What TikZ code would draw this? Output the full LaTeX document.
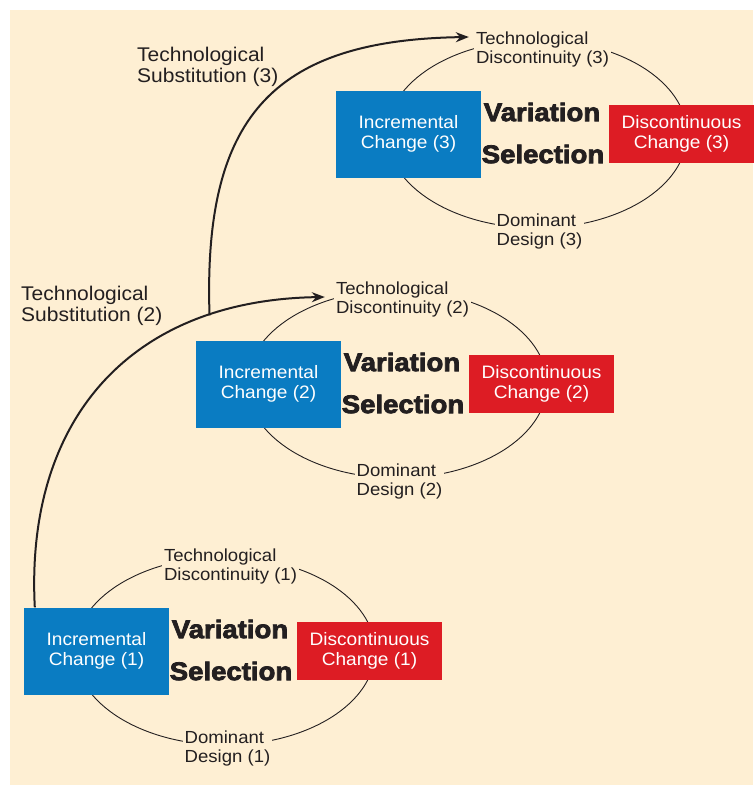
\documentclass[tikz,border=0pt]{standalone}
\usepackage{fontspec}
\setmainfont{Liberation Sans}[FakeStretch=1.06]
\newfontfamily\heavyfont{Liberation Sans Bold}[FakeBold=3,FakeStretch=1.08]
\usetikzlibrary{shapes.geometric,positioning,arrows.meta}
\definecolor{cream}{HTML}{FEEFD3}
\definecolor{ink}{HTML}{231F20}
\definecolor{incblue}{HTML}{0A7CC2}
\definecolor{discred}{HTML}{DD1C24}
\tikzset{
  era/.style={ellipse,draw=ink,line width=0.9pt,minimum width=300pt,minimum height=188pt,inner sep=0pt},
  incr/.style={fill=incblue,text=white,minimum width=145pt,minimum height=87pt,align=center,inner sep=0pt,
    font=\fontsize{18}{19.5}\selectfont},
  disc/.style={fill=discred,text=white,minimum width=145pt,minimum height=58pt,align=center,inner sep=0pt,
    font=\fontsize{18}{19.5}\selectfont},
  mech/.style={text=ink,inner sep=0pt,font=\heavyfont\fontsize{25.5}{25.5}\selectfont},
  tag/.style={fill=cream,text=ink,align=left,inner sep=2pt,font=\fontsize{17.5}{19}\selectfont},
  substtag/.style={text=ink,align=left,inner sep=0pt,anchor=west,font=\fontsize{19.8}{21}\selectfont},
  subst/.style={draw=ink,line width=2pt,-{Stealth[length=13pt,width=10pt]}},
}

\begin{document}
\begin{tikzpicture}[x=1pt,y=-1pt,on grid]
  \useasboundingbox (0,0) rectangle (753,785);
  \fill[cream] (10,10) rectangle (753,785);

  % first era
  \node[era] (e1) at (225,651) {};
  \node[incr] (inc1) [left=128.5pt of e1] {Incremental\\Change (1)};
  \node[disc] (dis1) [right=144.5pt of e1] {Discontinuous\\Change (1)};
  \node[mech] (var1) [above=22pt of e1,xshift=5pt] {Variation};
  \node[mech] (sel1) [below=20pt of e1,xshift=6pt] {Selection};
  \node[tag] (td1) [above=84.5pt of e1,xshift=5.5pt] {Technological\\Discontinuity (1)};
  \node[tag] (dd1) [below=97.5pt of e1,xshift=2.5pt] {Dominant\\Design (1)};

  % second era
  \node[era] (e2) at (397,384) {};
  \node[incr] (inc2) [left=128.5pt of e2] {Incremental\\Change (2)};
  \node[disc] (dis2) [right=144.5pt of e2] {Discontinuous\\Change (2)};
  \node[mech] (var2) [above=22pt of e2,xshift=5pt] {Variation};
  \node[mech] (sel2) [below=20pt of e2,xshift=6pt] {Selection};
  \node[tag] (td2) [above=84.5pt of e2,xshift=5.5pt] {Technological\\Discontinuity (2)};
  \node[tag] (dd2) [below=97.5pt of e2,xshift=2.5pt] {Dominant\\Design (2)};

  % third era
  \node[era] (e3) at (537,134) {};
  \node[incr] (inc3) [left=128.5pt of e3] {Incremental\\Change (3)};
  \node[disc] (dis3) [right=144.5pt of e3] {Discontinuous\\Change (3)};
  \node[mech] (var3) [above=22pt of e3,xshift=5pt] {Variation};
  \node[mech] (sel3) [below=20pt of e3,xshift=6pt] {Selection};
  \node[tag] (td3) [above=84.5pt of e3,xshift=5.5pt] {Technological\\Discontinuity (3)};
  \node[tag] (dd3) [below=97.5pt of e3,xshift=2.5pt] {Dominant\\Design (3)};

  % substitutions
  \node[substtag] (ts2) at (21,306) {Technological\\Substitution (2)};
  \node[substtag] (ts3) at (137,67) {Technological\\Substitution (3)};
  \draw[subst] ([xshift=11pt]inc1.north west)
    .. controls (25,420) and (130,300) .. coordinate[pos=0.78] (fork)
    ([xshift=-9pt,yshift=2.5pt]td2.west);
  \draw[subst] (fork)
    .. controls (203,120) and (270,40) .. ([xshift=-5pt,yshift=12.5pt]td3.west);
\end{tikzpicture}
\end{document}
